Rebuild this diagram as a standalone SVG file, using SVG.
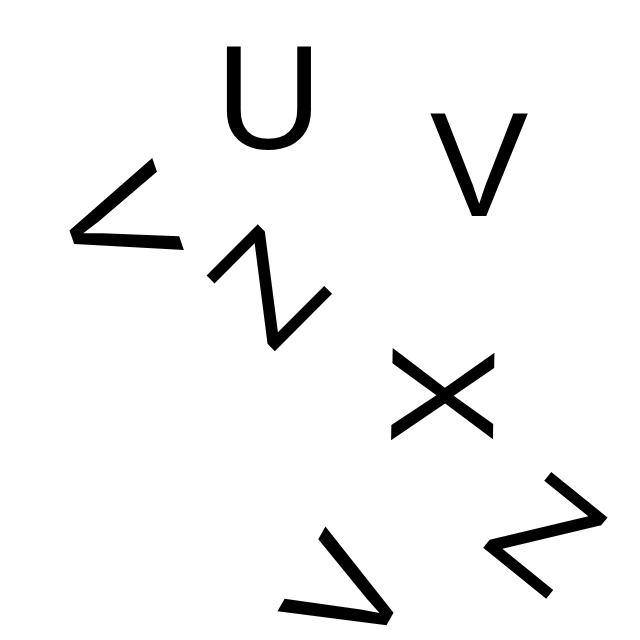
<svg xmlns="http://www.w3.org/2000/svg" width="640" height="640" viewBox="0 0 640 640">
<style>
text{font-family:"Liberation Sans",Arial,sans-serif;font-size:148px;fill:#000;text-anchor:middle}
</style>
<rect width="640" height="640" fill="#fff"/>
<g id="u" transform="translate(269,96)"><text x="0" y="53">U</text></g>
<g id="v1" transform="translate(479,163)"><text x="0" y="53">V</text></g>
<g id="v2" transform="translate(122,220) rotate(71)"><text x="0" y="53">V</text></g>
<g id="z1" transform="translate(266,285) rotate(-45)"><text x="0" y="53">Z</text></g>
<g id="x" transform="translate(445,395) rotate(91)"><text x="0" y="53">X</text></g>
<g id="z2" transform="translate(548,532) rotate(39)"><text x="0" y="53">Z</text></g>
<g id="v3" transform="translate(344,593) rotate(-60.5)"><text x="0" y="53">V</text></g>
<g id="connectors"/>
</svg>
